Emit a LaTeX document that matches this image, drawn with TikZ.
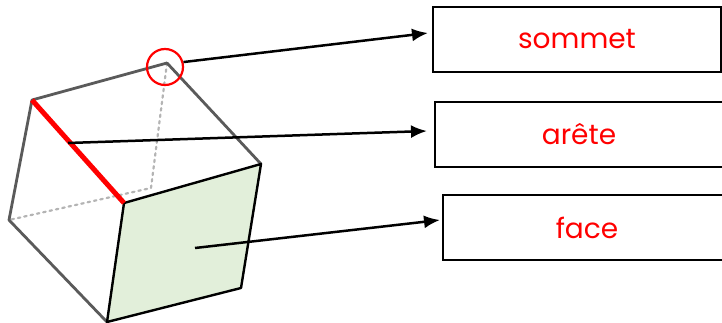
\documentclass[tikz,border=0pt]{standalone}
\usepackage{fontspec}
\setmainfont{Poppins}
\usetikzlibrary{arrows.meta,calc}
\definecolor{facegreen}{HTML}{E2EFDA}
\definecolor{edgegray}{HTML}{5A5A5A}
\definecolor{hidgray}{HTML}{B4B4B4}
\tikzset{
  lab/.style={draw=black, line width=2pt, minimum width=288pt, minimum height=65pt,
    inner sep=0pt, text=red, font=\fontsize{28}{32}\selectfont},
  conn/.style={line width=2.5pt, -{Latex[length=16pt,width=13pt]}},
  edge/.style={draw=edgegray, line width=2.8pt, line join=round, line cap=round},
  hid/.style={draw=hidgray, line width=2.2pt, dash pattern=on 2.5pt off 4pt, line cap=round}
}
\begin{document}
\begin{tikzpicture}[x=1pt,y=-1pt]
\useasboundingbox (0,0) rectangle (722,323);
\clip (0,0) rectangle (722,323);
% cube vertices
\coordinate (A) at (167,63);
\coordinate (B) at (32,100);
\coordinate (C) at (124,203);
\coordinate (D) at (261,164);
\coordinate (E) at (9,220);
\coordinate (F) at (107,322);
\coordinate (G) at (241,288);
\coordinate (H) at (151,188);
% hidden edges
\draw[hid] (A) -- (H) -- (E);
% visible faces
\draw[edge] (A) -- (B) -- (E) -- (F);
\draw[edge] (A) -- (D);
\fill[facegreen] (C) -- (D) -- (G) -- (F) -- cycle;
\draw[line width=2.4pt, line join=round] (C) -- (D) -- (G) -- (F) -- cycle;
\draw[red, line width=5pt] (B) -- (C);
% marker
\node[draw=red, line width=2.2pt, circle, minimum size=36pt, inner sep=0pt] (vc) at (165,67) {};
% labels
\node[lab] (sommet) at (577,39.5) {sommet};
\node[lab] (arete) at (579,134.5) {arête};
\node[lab] (face) at (587,227.5) {face};
% connector start points
\coordinate (pe) at (68,143);
\coordinate (pf) at (195,248);
\coordinate (ts) at ($(sommet.west)+(-4,-6.5)$);
\coordinate (ta) at ($(arete.west)+(-7,-3.5)$);
\coordinate (tf) at ($(face.west)+(-2,-7.5)$);
\draw[conn] (vc.15) -- (ts);
\draw[conn] (pe) -- (ta);
\draw[conn] (pf) -- (tf);
\end{tikzpicture}
\end{document}
